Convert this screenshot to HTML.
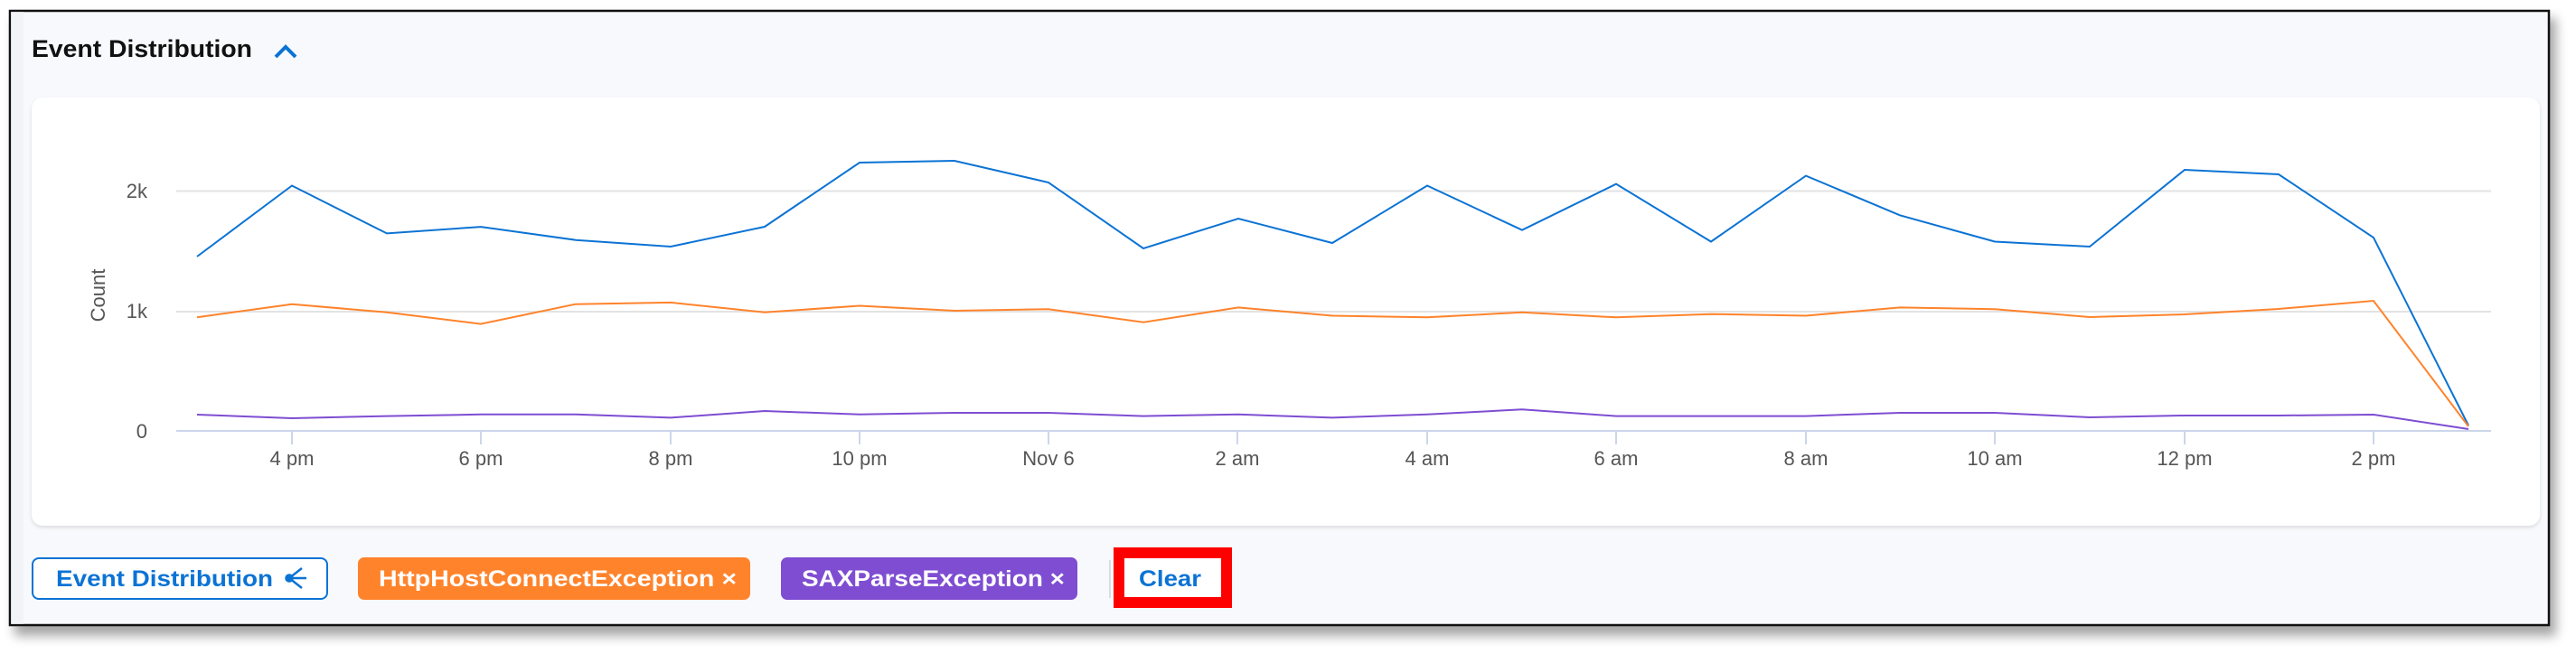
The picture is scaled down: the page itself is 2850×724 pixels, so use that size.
<!DOCTYPE html>
<html><head><meta charset="utf-8"><style>
html,body{margin:0;padding:0;background:#fff;}
body{width:2850px;height:724px;overflow:hidden;position:relative;font-family:"Liberation Sans",sans-serif;}
</style></head><body>
<svg width="2850" height="724" viewBox="0 0 2850 724" xmlns="http://www.w3.org/2000/svg" style="position:absolute;left:0;top:0">
<defs>
<filter id="sh" x="-5%" y="-10%" width="110%" height="130%"><feGaussianBlur stdDeviation="6"/></filter>
<filter id="cs" x="-2%" y="-5%" width="104%" height="110%"><feGaussianBlur stdDeviation="2"/></filter>
</defs>
<rect x="16" y="20" width="2812" height="684" fill="#000" opacity="0.35" filter="url(#sh)"/>
<rect x="11" y="12" width="2809" height="680" fill="#f8f9fc" stroke="#111" stroke-width="2.5"/>
<rect x="12" y="13" width="14" height="678" fill="#eceef3" opacity="0.6"/>
<text x="35" y="63" font-size="27" font-weight="bold" fill="#111" textLength="244" lengthAdjust="spacingAndGlyphs">Event Distribution</text>
<polyline points="305,63 316,52 327,63" fill="none" stroke="#0b73d4" stroke-width="4"/>
<rect x="35" y="110" width="2775" height="474" rx="12" fill="#000" opacity="0.12" filter="url(#cs)"/>
<rect x="35" y="108" width="2775" height="474" rx="12" fill="#fff"/>
<line x1="195" y1="211.5" x2="2756" y2="211.5" stroke="#e3e3e3" stroke-width="2"/>
<line x1="195" y1="345" x2="2756" y2="345" stroke="#e3e3e3" stroke-width="2"/>
<line x1="195" y1="477" x2="2756" y2="477" stroke="#ccd6eb" stroke-width="2"/>
<g font-size="22" fill="#555" text-anchor="end">
<text x="163" y="219">2k</text><text x="163" y="352">1k</text><text x="163" y="485">0</text>
</g>
<text transform="translate(116,327) rotate(-90)" font-size="22" fill="#555" text-anchor="middle">Count</text>
<g stroke="#ccd6eb" stroke-width="2">
<line x1="323" y1="477" x2="323" y2="492"/><line x1="532" y1="477" x2="532" y2="492"/><line x1="742" y1="477" x2="742" y2="492"/><line x1="951" y1="477" x2="951" y2="492"/><line x1="1160" y1="477" x2="1160" y2="492"/><line x1="1369" y1="477" x2="1369" y2="492"/><line x1="1579" y1="477" x2="1579" y2="492"/><line x1="1788" y1="477" x2="1788" y2="492"/><line x1="1998" y1="477" x2="1998" y2="492"/><line x1="2207" y1="477" x2="2207" y2="492"/><line x1="2417" y1="477" x2="2417" y2="492"/><line x1="2626" y1="477" x2="2626" y2="492"/>
</g>
<g font-size="22" fill="#555" text-anchor="middle">
<text x="323" y="515">4 pm</text><text x="532" y="515">6 pm</text><text x="742" y="515">8 pm</text><text x="951" y="515">10 pm</text><text x="1160" y="515">Nov 6</text><text x="1369" y="515">2 am</text><text x="1579" y="515">4 am</text><text x="1788" y="515">6 am</text><text x="1998" y="515">8 am</text><text x="2207" y="515">10 am</text><text x="2417" y="515">12 pm</text><text x="2626" y="515">2 pm</text>
</g>
<polyline fill="none" stroke="#0b73d4" stroke-width="2" points="218,284 323,205.5 428,258.4 532,251.1 637,265.7 742,273 846,251 951,180 1056,178 1160,202 1265,275 1370,242 1474,269 1579,205.5 1684,254.7 1788,203.7 1893,267.5 1998,194.6 2102,238.3 2207,267.5 2312,273 2417,188 2521,193 2626,263 2731,471"/>
<polyline fill="none" stroke="#ff832b" stroke-width="2" points="218,351.3 323,336.7 428,345.8 532,358.6 637,336.7 742,334.9 846,345.8 951,338.5 1056,344 1160,342.2 1265,356.8 1370,340.4 1474,349.5 1579,351.3 1684,345.8 1788,351.3 1893,347.7 1998,349.5 2102,340.4 2207,342.2 2312,351 2417,348 2521,342 2626,333 2731,472"/>
<polyline fill="none" stroke="#7e4dd2" stroke-width="2" points="218,459 323,463 428,460.6 532,458.8 637,458.8 742,462.4 846,455 951,458.8 1056,457 1160,457 1265,460.6 1370,458.8 1474,462.4 1579,458.8 1684,453.3 1788,460.6 1893,460.6 1998,460.6 2102,457 2207,457 2312,462 2417,460 2521,460 2626,459 2731,475"/>
<rect x="36" y="618" width="326" height="45" rx="7" fill="#fff" stroke="#0b73d4" stroke-width="2"/>
<text x="62" y="649" font-size="25" font-weight="bold" fill="#0b73d4" textLength="240" lengthAdjust="spacingAndGlyphs">Event Distribution</text>
<g stroke="#0b73d4" stroke-width="2.5" fill="#0b73d4">
<line x1="320" y1="640" x2="334" y2="629"/><line x1="320" y1="640" x2="339" y2="640"/><line x1="320" y1="640" x2="334" y2="651"/>
<circle cx="320" cy="640" r="3.5"/>
</g>
<rect x="396" y="617" width="434" height="47" rx="7" fill="#ff832b"/>
<text x="419" y="649" font-size="25" font-weight="bold" fill="#fff" textLength="396" lengthAdjust="spacingAndGlyphs">HttpHostConnectException ×</text>
<rect x="864" y="617" width="328" height="47" rx="7" fill="#7e4dd2"/>
<text x="887" y="649" font-size="25" font-weight="bold" fill="#fff" textLength="291" lengthAdjust="spacingAndGlyphs">SAXParseException ×</text>
<line x1="1228" y1="620" x2="1228" y2="662" stroke="#d8dce6" stroke-width="2"/>
<rect x="1238" y="612" width="119" height="55" fill="#fff" stroke="#ff0000" stroke-width="12"/>
<text x="1260" y="649" font-size="25" font-weight="bold" fill="#0b73d4" textLength="69" lengthAdjust="spacingAndGlyphs">Clear</text>
</svg>
</body></html>
